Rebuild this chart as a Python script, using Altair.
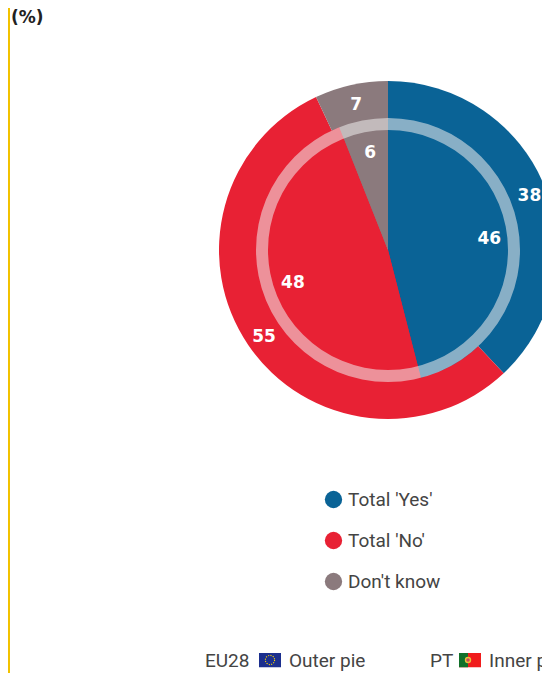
import altair as alt
import pandas as pd
from urllib.parse import quote

categories = ["Total 'Yes'", "Total 'No'", "Don't know"]
outer_values = [38, 55, 7]   # EU28
inner_values = [46, 48, 6]   # PT
colours = ["#0a6396", "#e82134", "#8b7a7d"]
FONT = "Roboto"
BOLD = "DejaVu Sans"
TXT = "#444444"

outer = pd.DataFrame({"cat": categories, "v": outer_values, "o": [0, 1, 2]})
inner = pd.DataFrame({"cat": categories, "v": inner_values, "o": [0, 1, 2]})
one = pd.DataFrame({"a": [0]})

CX, CY = 380, 242


def pos():
    return dict(x=alt.value(CX), y=alt.value(CY))


theta = alt.Theta("v:Q", stack=True, scale=alt.Scale(domain=[0, 100], range=[0, 6.28318531]))
color = alt.Color(
    "cat:N",
    scale=alt.Scale(domain=categories, range=colours),
    legend=alt.Legend(
        title=None, orient="none", legendX=316, legendY=482, symbolType="circle",
        symbolSize=300, symbolStrokeWidth=0, labelFont=FONT, labelFontSize=19,
        labelColor=TXT, rowPadding=21, labelOffset=5, labelLimit=200,
    ),
)
order = alt.Order("o:Q")


def pie(df, r):
    return alt.Chart(df).mark_arc(radius=r, radius2=0).encode(
        theta=theta, color=color, order=order, **pos()
    )


def labels(df, r):
    return alt.Chart(df).mark_text(
        radius=r, font=BOLD, fontSize=17, fontWeight="bold", color="white",
        align="center", baseline="middle", dx=1, dy=2,
    ).encode(theta=theta, order=order, text="v:Q", **pos())


ring = alt.Chart(one).mark_arc(
    radius=132, radius2=120, theta=0, theta2=6.28318531, color="#f0eeee", opacity=0.55
).encode(**pos())


def static_text(s, x, y, size=19, weight="normal", font=FONT, c=TXT):
    return alt.Chart(one).mark_text(
        text=s, font=font, fontSize=size, fontWeight=weight, color=c,
        align="left", baseline="middle",
    ).encode(x=alt.value(x), y=alt.value(y))


eu_svg = (
    "<svg xmlns='http://www.w3.org/2000/svg' width='22' height='15'>"
    "<rect width='22' height='15' fill='#1b2f8e'/>"
    "<circle cx='11' cy='7.5' r='4.6' fill='none' stroke='#ffd800' stroke-width='1.1' stroke-dasharray='1.1 1.3'/>"
    "</svg>"
)
pt_svg = (
    "<svg xmlns='http://www.w3.org/2000/svg' width='22' height='15'>"
    "<rect width='22' height='15' fill='#f01c1c'/>"
    "<rect width='9' height='15' fill='#11702a'/>"
    "<circle cx='9' cy='7.5' r='3.2' fill='#e8c23a'/>"
    "<circle cx='9' cy='7.5' r='1.8' fill='#c9455a'/>"
    "</svg>"
)


def flag(svg, x, y):
    return alt.Chart(one).mark_image(
        url="data:image/svg+xml," + quote(svg), width=22, height=15, aspect=False
    ).encode(x=alt.value(x), y=alt.value(y))


edge = alt.Chart(one).mark_rect(color="#f2c200").encode(
    x=alt.value(0), x2=alt.value(2), y=alt.value(0), y2=alt.value(665)
)

BOTTOM = 653

chart = alt.layer(
    edge,
    pie(outer, 169),
    pie(inner, 132),
    ring,
    labels(outer, 151),
    labels(inner, 101),
    static_text("(%)", 3, 10, size=17, weight="bold", font=BOLD, c="#222222"),
    static_text("EU28", 197, BOTTOM),
    flag(eu_svg, 262, BOTTOM - 1),
    static_text("Outer pie", 281, BOTTOM),
    static_text("PT", 422, BOTTOM),
    flag(pt_svg, 462, BOTTOM - 1),
    static_text("Inner pie", 481, BOTTOM),
).properties(
    width=534, height=665, padding=0, autosize=alt.AutoSizeParams(type="none")
).configure_view(stroke=None)

chart.save("out.html", embed_options={"renderer": "svg", "actions": False})
